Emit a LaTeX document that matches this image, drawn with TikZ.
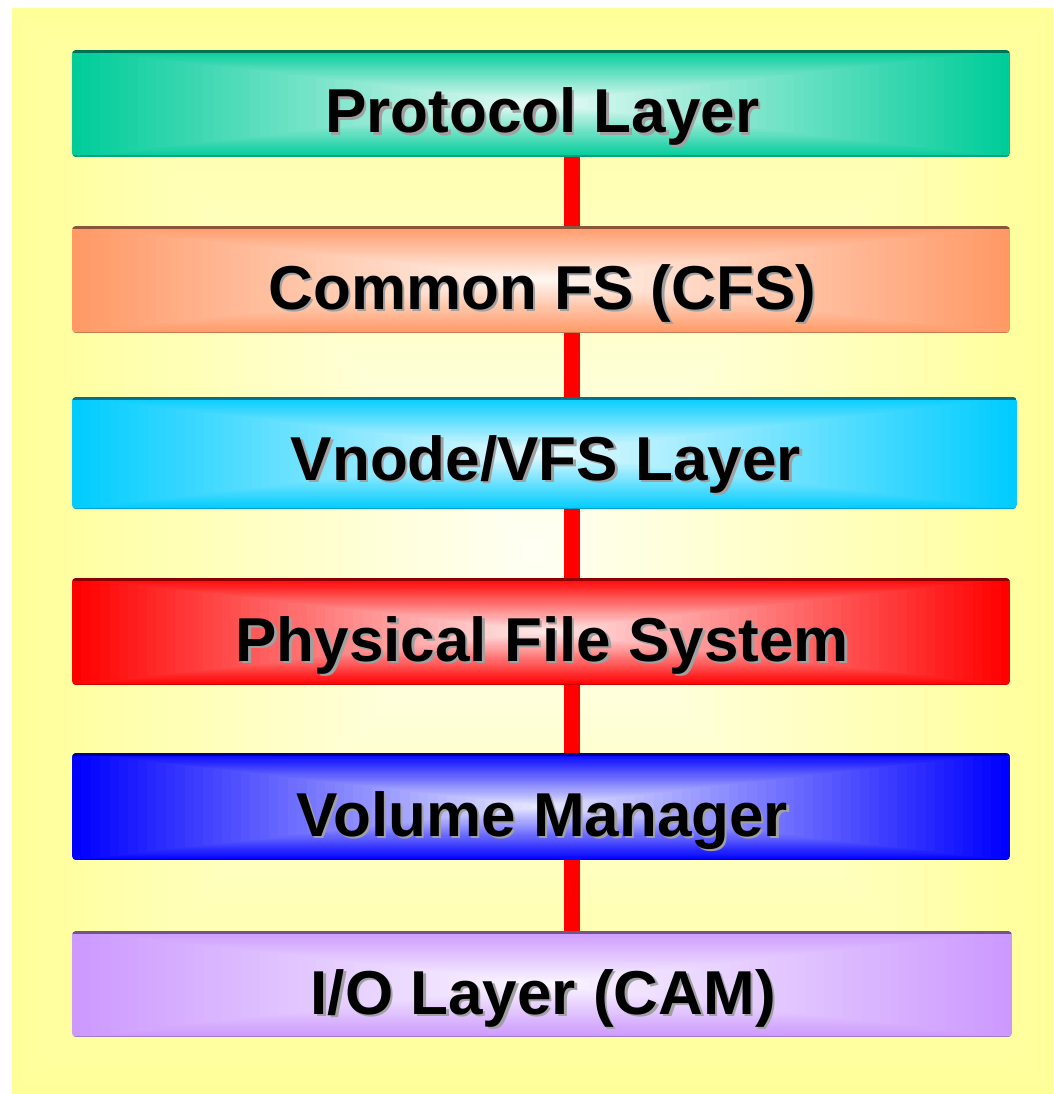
\documentclass[tikz,border=0pt]{standalone}
\usepackage{fontspec}
\setmainfont{Liberation Sans}
\definecolor{bgyellow}{HTML}{FFFF99}
\definecolor{cproto}{HTML}{00CC99}
\definecolor{ccfs}{HTML}{FF9966}
\definecolor{cvnode}{HTML}{00CCFF}
\definecolor{cphys}{HTML}{FF0000}
\definecolor{cvol}{HTML}{0000FF}
\definecolor{cio}{HTML}{CC99FF}
\definecolor{shadowgray}{HTML}{A0A0A0}
\tikzset{
  conn/.style={draw=red, line width=16pt},
  lbl/.style={font=\fontsize{62}{70}\selectfont\bfseries, text=black, inner sep=0pt, anchor=base},
  boxnode/.style={inner sep=0pt, draw=none, rectangle}
}
\newcommand\shadowtext[1]{\makebox[0pt][l]{\hspace{2.5pt}\raisebox{-2.5pt}{\textcolor{shadowgray}{#1}}}#1}
% name, x1, y1, x2, y2, colour, text
\newcommand\layerbox[7]{%
  \begin{scope}
    \clip[rounded corners=4pt] (#2,#3) rectangle (#4,#5);
    \foreach \i in {0,...,49}{
      \pgfmathsetmacro\ff{\i/100}
      \pgfmathsetmacro\pc{\i*1.85}
      \fill[white!\pc!#6] ({#2+(#4-#2)*\ff},{#3+(#5-#3)*\ff}) rectangle ({#4-(#4-#2)*\ff},{#5-(#5-#3)*\ff});
    }
    \fill[#6!55!black] (#2,#3) rectangle (#4,#3+3);
    \fill[#6!80!black] (#2,#5-1.5) rectangle (#4,#5);
  \end{scope}
  \node[boxnode, minimum width={(#4-#2)*1pt}, minimum height={(#5-#3)*1pt}] (#1) at ({(#2+#4)/2},{(#3+#5)/2}) {};
  \node[lbl] (#1t) at ({(#2+#4)/2+1.25},{#3+83}) {\shadowtext{#7}};
}
\begin{document}
\begin{tikzpicture}[x=1pt,y=-1pt]
\useasboundingbox (0,0) rectangle (1053,1094);
% background
\foreach \i in {0,...,49}{
  \pgfmathsetmacro\ff{\i/100}
  \pgfmathsetmacro\pc{\i*1.8}
  \fill[white!\pc!bgyellow] ({12+1041*\ff},{8+1086*\ff}) rectangle ({1053-1041*\ff},{1094-1086*\ff});
}
\coordinate (lx) at (572,0);
\layerbox{proto}{72}{50}{1010}{157}{cproto}{Protocol Layer}
\layerbox{cfs}{72}{226}{1010}{333}{ccfs}{Common FS (CFS)}
\layerbox{vnode}{72}{397}{1017}{509}{cvnode}{Vnode/VFS Layer}
\layerbox{phys}{72}{578}{1010}{685}{cphys}{Physical File System}
\layerbox{vol}{72}{753}{1010}{860}{cvol}{Volume Manager}
\layerbox{io}{72}{931}{1012}{1037}{cio}{I/O Layer (CAM)}
\draw[conn] (proto.south -| lx) -- (cfs.north -| lx);
\draw[conn] (cfs.south -| lx) -- (vnode.north -| lx);
\draw[conn] (vnode.south -| lx) -- (phys.north -| lx);
\draw[conn] (phys.south -| lx) -- (vol.north -| lx);
\draw[conn] (vol.south -| lx) -- (io.north -| lx);
\end{tikzpicture}
\end{document}
